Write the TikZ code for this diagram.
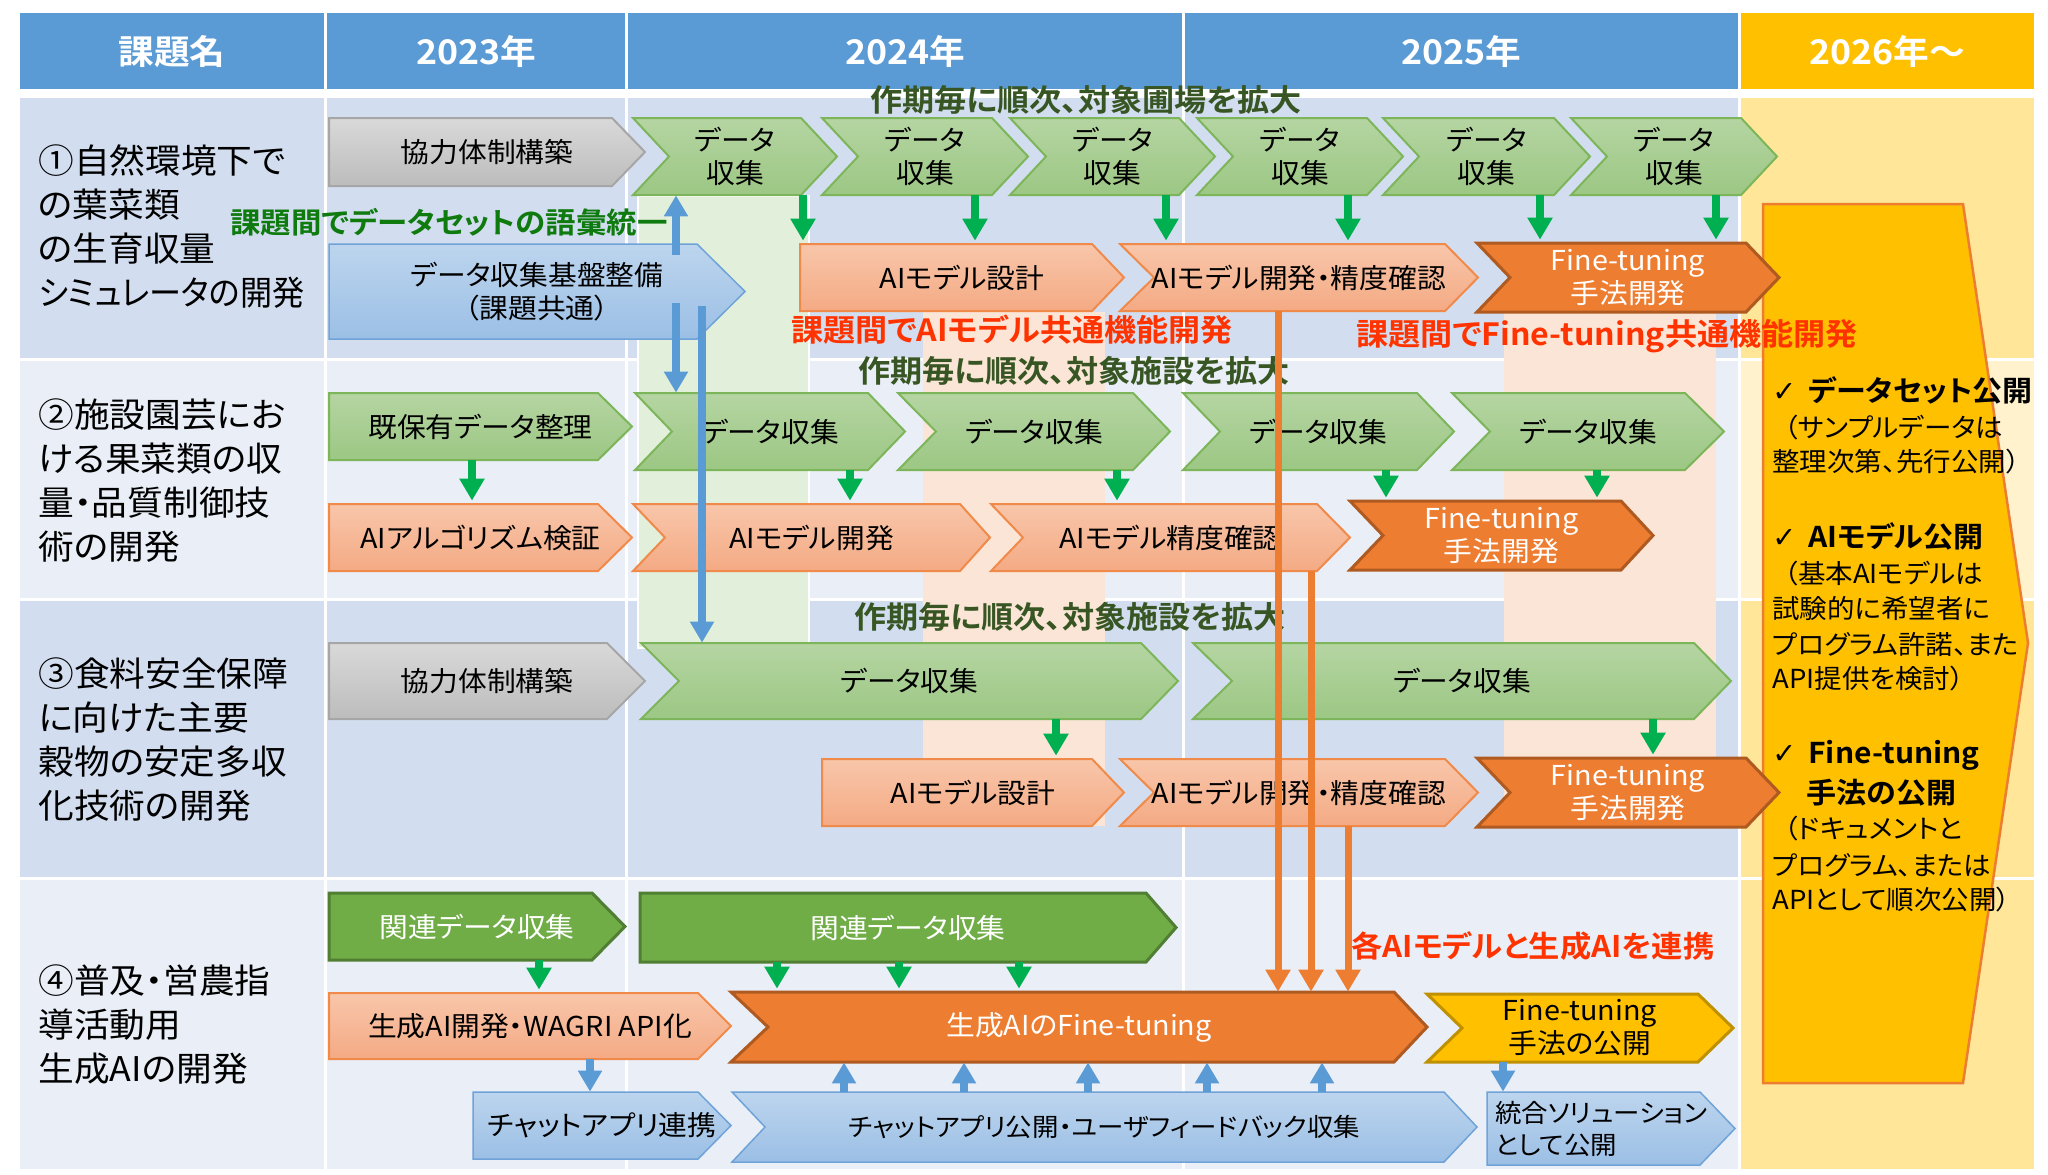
\documentclass[tikz,border=0pt]{standalone}
\usepackage{fontspec}
\usepackage{graphicx}
\setmainfont{Noto Sans CJK JP}[FakeStretch=1.05, RawFeature=+palt, BoldFont={Noto Sans CJK JP Bold}]
\newfontfamily\symf{DejaVu Sans}
\usetikzlibrary{arrows.meta,fit}
\definecolor{hdrblue}{HTML}{5B9BD5}
\definecolor{hdrgold}{HTML}{FFC000}
\definecolor{rowA}{HTML}{D2DEEF}
\definecolor{rowB}{HTML}{E9EEF7}
\definecolor{gldA}{HTML}{FFE699}
\definecolor{gldB}{HTML}{FFF2CC}
\definecolor{bandG}{HTML}{E2EFDA}
\definecolor{bandP}{HTML}{FBE5D6}
\definecolor{grnT}{HTML}{B5D5A2}
\definecolor{grnB}{HTML}{9CC784}
\definecolor{grnE}{HTML}{7DB55A}
\definecolor{gryT}{HTML}{D9D9D9}
\definecolor{gryB}{HTML}{BCBCBC}
\definecolor{gryE}{HTML}{A6A6A6}
\definecolor{bluT}{HTML}{BDD5EE}
\definecolor{bluB}{HTML}{9BBFE5}
\definecolor{bluE}{HTML}{6FA3D8}
\definecolor{salT}{HTML}{F8C6AA}
\definecolor{salB}{HTML}{F4AA84}
\definecolor{salE}{HTML}{F08A4B}
\definecolor{orgF}{HTML}{ED7D31}
\definecolor{orgE}{HTML}{AE5A21}
\definecolor{dgrF}{HTML}{70AD47}
\definecolor{dgrE}{HTML}{507E32}
\definecolor{gldF}{HTML}{FFC000}
\definecolor{gldE}{HTML}{BF9000}
\definecolor{arrG}{HTML}{00B050}
\definecolor{arrB}{HTML}{5B9BD5}
\definecolor{arrO}{HTML}{ED7D31}
\definecolor{annD}{HTML}{375623}
\definecolor{annG}{HTML}{0F7B0F}
\definecolor{annR}{HTML}{FF3300}

% #1 name, #2 style base, #3 left x, #4 notch depth, #5 straight end x, #6 tip x, #7 top y, #8 bottom y, #9 text
\newcommand\shp[9]{%
  \path[#2] (#3,#7) -- (#5,#7) -- (#6,{(#7+#8)/2}) -- (#5,#8) -- (#3,#8) -- ({#3+#4},{(#7+#8)/2}) -- cycle;
  \node[fit={(#3,#7) (#6,#8)}, inner sep=0pt] (#1) {};
  \node[#2t] (#1t) at (#1.center) {#9};
}

\tikzset{
  btxt/.style={font=\fontsize{13.7}{16.5}\selectfont, align=center, inner sep=0pt},
  gbox/.style={top color=grnT, bottom color=grnB, draw=grnE, line width=1pt},
  gboxt/.style={btxt},
  kbox/.style={top color=gryT, bottom color=gryB, draw=gryE, line width=1pt},
  kboxt/.style={btxt},
  bbox/.style={top color=bluT, bottom color=bluB, draw=bluE, line width=0.75pt},
  bboxt/.style={btxt},
  cbox/.style={bbox},
  cboxt/.style={btxt, font=\fontsize{12.6}{16}\selectfont},
  lbox/.style={bbox},
  lboxt/.style={btxt, font=\fontsize{12.6}{16}\selectfont, align=left, xshift=-5pt},
  sbox/.style={top color=salT, bottom color=salB, draw=salE, line width=1pt},
  sboxt/.style={btxt},
  obox/.style={fill=orgF, draw=orgE, line width=1.5pt},
  oboxt/.style={btxt, text=white},
  dbox/.style={fill=dgrF, draw=dgrE, line width=1.5pt},
  dboxt/.style={btxt, text=white},
  ybox/.style={fill=gldF, draw=gldE, line width=1.5pt},
  yboxt/.style={btxt},
  hdr/.style={font=\bfseries\fontsize{17}{18}\selectfont, text=white},
  lbl/.style={font=\fontsize{17}{22}\selectfont, align=left, anchor=west, inner sep=0pt},
  anno/.style={font=\bfseries\fontsize{15.3}{16}\selectfont, inner sep=0pt},
  ph/.style={font=\bfseries\fontsize{14.3}{16}\selectfont, anchor=west, inner sep=0pt},
  pb/.style={font=\fontsize{13.1}{14}\selectfont, anchor=west, inner sep=0pt},
  garr/.style={draw=arrG, line width=4pt, -{Triangle[width=12pt,length=11pt]}, shorten >=1.5pt},
  barr/.style={draw=arrB, line width=3.75pt, -{Triangle[width=11.5pt,length=10.5pt]}},
  oarr/.style={draw=arrO, line width=3.5pt, -{Triangle[width=12pt,length=11pt]}},
}

\begin{document}
\begin{tikzpicture}[x=0.5pt,y=-0.5pt]
\useasboundingbox (0,0) rectangle (2048,1174);
\fill[white] (0,0) rectangle (2048,1174);

% header
\fill[hdrblue] (20,13) rectangle (324,89);
\fill[hdrblue] (327,13) rectangle (625,89);
\fill[hdrblue] (628,13) rectangle (1182,89);
\fill[hdrblue] (1185,13) rectangle (1738,89);
\fill[hdrgold] (1741,13) rectangle (2034,89);
\node[hdr] (h0) at (172,52) {課題名};
\node[hdr] (h1) at (476,52) {2023年};
\node[hdr] (h2) at (905,52) {2024年};
\node[hdr] (h3) at (1461,52) {2025年};
\node[hdr] (h4) at (1887,52) {2026年〜};

% body cells
\foreach \ya/\yb/\c/\g in {98/358/rowA/gldA, 361/598/rowB/gldB, 601/877/rowA/gldA, 880/1169/rowB/gldA}{
  \foreach \xa/\xb in {20/324, 327/625, 628/1182, 1185/1738}{\fill[\c] (\xa,\ya) rectangle (\xb,\yb);}
  \fill[\g] (1741,\ya) rectangle (2034,\yb);
}

% highlight bands
\filldraw[fill=bandG, draw=white, line width=1.25pt] (638,196) rectangle (809,648);
\fill[bandP] (923,312) rectangle (1105,826);
\fill[bandP] (1504,312) rectangle (1716,826);

% 2026 block
\draw[fill=gldF, draw=orgF, line width=1.25pt] (1763,204) -- (1963,204) -- (2028,643) -- (1963,1083) -- (1763,1083) -- cycle;

% row labels
\node[lbl] (L1) at (38,227) {①自然環境下で\\の葉菜類\\の生育収量\\\scalebox{0.9}[1]{シミュレータの開発}};
\node[lbl] (L2) at (38,481) {②施設園芸にお\\ける果菜類の収\\量・品質制御技\\術の開発};
\node[lbl] (L3) at (38,740) {③食料安全保障\\に向けた主要\\穀物の安定多収\\化技術の開発};
\node[lbl] (L4) at (38,1025) {④普及・営農指\\導活動用\\生成AIの開発};

% annotations
\node[anno, text=annD] (a1) at (1086,100) {作期毎に順次、対象圃場を拡大};
\node[anno, text=annG, anchor=east, font=\bfseries\fontsize{14.5}{16}\selectfont] (a2) at (668,222) {課題間でデータセットの語彙統一};
\node[anno, text=annR] (a3) at (1012,330) {課題間でAIモデル共通機能開発};
\node[anno, text=annR] (a4) at (1607,336) {課題間でFine-tuning共通機能開発};
\node[anno, text=annD] (a5) at (1074,371) {作期毎に順次、対象施設を拡大};
\node[anno, text=annD] (a6) at (1070,617) {作期毎に順次、対象施設を拡大};
\node[anno, text=annR, font=\bfseries\fontsize{14.9}{16}\selectfont] (a7) at (1533,946) {各AIモデルと生成AIを連携};

% row 1
\shp{k1}{kbox}{329}{0}{612}{645}{118}{186}{協力体制構築}
\shp{d1}{gbox}{633}{36}{801}{837}{118}{195}{データ\\収集}
\shp{d2}{gbox}{822}{36}{992}{1028}{118}{195}{データ\\収集}
\shp{d3}{gbox}{1010}{36}{1179}{1215}{118}{195}{データ\\収集}
\shp{d4}{gbox}{1197}{36}{1367}{1403}{118}{195}{データ\\収集}
\shp{d5}{gbox}{1383}{36}{1554}{1590}{118}{195}{データ\\収集}
\shp{d6}{gbox}{1571}{36}{1741}{1777}{118}{195}{データ\\収集}
\shp{base}{bbox}{329}{0}{697}{745}{244}{339}{データ収集基盤整備\\（課題共通）}
\shp{m1}{sbox}{800}{0}{1092}{1124}{244}{311}{AIモデル設計}
\shp{m2}{sbox}{1120}{34}{1445}{1478}{244}{311}{AIモデル開発・精度確認}
\shp{f1}{obox}{1477}{33}{1746}{1779}{243}{312}{Fine-tuning\\手法開発}

% row 2
\shp{e1}{gbox}{329}{0}{598}{632}{393}{460}{既保有データ整理}
\shp{p1}{sbox}{329}{0}{598}{632}{504}{571}{AIアルゴリズム検証}
\shp{d7}{gbox}{635}{37}{868}{905}{393}{470}{データ収集}
\shp{d8}{gbox}{898}{38}{1133}{1170}{393}{470}{データ収集}
\shp{d9}{gbox}{1183}{37}{1417}{1454}{393}{470}{データ収集}
\shp{d10}{gbox}{1452}{38}{1685}{1724}{393}{470}{データ収集}
\shp{p2}{sbox}{633}{32}{960}{990}{504}{571}{AIモデル開発}
\shp{p3}{sbox}{991}{32}{1317}{1350}{504}{571}{AIモデル精度確認}
\shp{f2}{obox}{1350}{33}{1621}{1653}{501}{570}{Fine-tuning\\手法開発}

% row 3
\shp{k2}{kbox}{329}{0}{607}{645}{643}{719}{協力体制構築}
\shp{d11}{gbox}{641}{38}{1141}{1178}{643}{719}{データ収集}
\shp{d12}{gbox}{1193}{39}{1694}{1731}{643}{719}{データ収集}
\shp{q1}{sbox}{822}{0}{1092}{1124}{759}{826}{AIモデル設計}
\shp{q2}{sbox}{1120}{34}{1445}{1478}{759}{826}{AIモデル開発・精度確認}
\shp{f3}{obox}{1477}{33}{1746}{1779}{758}{827}{Fine-tuning\\手法開発}

% row 4
\shp{r1}{dbox}{329}{0}{592}{625}{893}{960}{関連データ収集}
\shp{r2}{dbox}{640}{0}{1146}{1176}{893}{962}{関連データ収集}
\shp{w1}{sbox}{329}{0}{698}{731}{993}{1059}{生成AI開発・WAGRI API化}
\shp{g1}{obox}{731}{37}{1394}{1427}{992}{1062}{生成AIのFine-tuning}
\shp{y1}{ybox}{1427}{35}{1698}{1733}{994}{1062}{Fine-tuning\\手法の公開}
\shp{c1}{bbox}{473}{0}{698}{731}{1092}{1159}{チャットアプリ連携}
\shp{c2}{cbox}{732}{33}{1444}{1477}{1092}{1162}{チャットアプリ公開・ユーザフィードバック収集}
\shp{c3}{lbox}{1487}{0}{1700}{1735}{1092}{1165}{統合ソリューション\\として公開}

% x positions for connectors
\foreach \x in {472,539,590,777,803,844,850,899,964,975,1019,1056,1088,1117,1166,1207,1278,1311,1322,1348,1386,1503,1540,1597,1653,1716}{\coordinate (X\x) at (\x,0);}
\coordinate (bu) at (676,255);
\coordinate (bd1) at (676,303);
\coordinate (bd2) at (702,306);

% green arrows
\draw[garr] (d1.south -| X803) -- (m1.north -| X803);
\draw[garr] (d2.south -| X975) -- (m1.north -| X975);
\draw[garr] (d3.south -| X1166) -- (m2.north -| X1166);
\draw[garr] (d4.south -| X1348) -- (m2.north -| X1348);
\draw[garr] (d5.south -| X1540) -- (f1.north -| X1540);
\draw[garr] (d6.south -| X1716) -- (f1.north -| X1716);
\draw[garr] (e1.south -| X472) -- (p1.north -| X472);
\draw[garr] (d7.south -| X850) -- (p2.north -| X850);
\draw[garr] (d8.south -| X1117) -- (p3.north -| X1117);
\draw[garr] (d9.south -| X1386) -- (f2.north -| X1386);
\draw[garr] (d10.south -| X1597) -- (f2.north -| X1597);
\draw[garr] (d11.south -| X1056) -- (q1.north -| X1056);
\draw[garr] (d12.south -| X1653) -- (f3.north -| X1653);
\draw[garr] (r1.south -| X539) -- (w1.north -| X539);
\draw[garr] (r2.south -| X777) -- (g1.north -| X777);
\draw[garr] (r2.south -| X899) -- (g1.north -| X899);
\draw[garr] (r2.south -| X1019) -- (g1.north -| X1019);

% blue arrows
\draw[barr] (bu) -- (d1.south -| bu);
\draw[barr] (bd1) -- (d7.north -| bd1);
\draw[barr] (bd2) -- (d11.north -| bd2);
\draw[barr] (w1.south -| X590) -- (c1.north -| X590);
\draw[barr] (y1.south -| X1503) -- (c3.north -| X1503);
\foreach \x in {844,964,1088,1207,1322}{\draw[barr] (c2.north -| X\x) -- (g1.south -| X\x);}

% orange arrows
\draw[oarr] (m2.south -| X1278) -- (g1.north -| X1278);
\draw[oarr] (p3.south -| X1311) -- (g1.north -| X1311);
\draw[oarr] (q2.south -| X1348) -- (g1.north -| X1348);

% 2026 texts
\node[ph] (t1) at (1772,390) {{\symf ✓}\hspace{6pt}データセット公開};
\node[pb] (t2) at (1784,428) {（サンプルデータは};
\node[pb] (t3) at (1772,462) {整理次第、先行公開）};
\node[ph] (t4) at (1772,536) {{\symf ✓}\hspace{6pt}AIモデル公開};
\node[pb] (t5) at (1784,574) {（基本AIモデルは};
\node[pb] (t6) at (1772,609) {試験的に希望者に};
\node[pb] (t7) at (1772,645) {プログラム許諾、また};
\node[pb] (t8) at (1772,679) {API提供を検討）};
\node[ph] (t9) at (1772,755) {{\symf ✓}\hspace{6pt}Fine-tuning};
\node[ph] (t10) at (1806,793) {手法の公開};
\node[pb] (t11) at (1784,829) {（ドキュメントと};
\node[pb] (t12) at (1772,865) {プログラム、または};
\node[pb] (t13) at (1772,900) {APIとして順次公開）};
\end{tikzpicture}
\end{document}
